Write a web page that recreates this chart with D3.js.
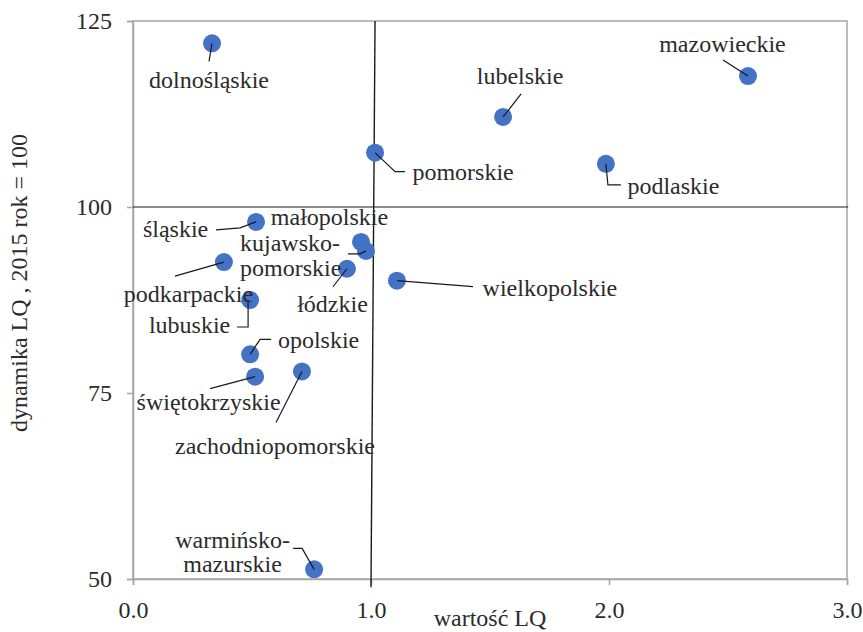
<!DOCTYPE html>
<html>
<head>
<meta charset="utf-8">
<script src="https://cdn.jsdelivr.net/npm/d3@7"></script>
<style>
  html, body { margin: 0; padding: 0; background: #fff; }
  svg { display: block; }
  text { font-family: "Liberation Serif", "Times New Roman", serif; fill: #2b2b2b; }
</style>
</head>
<body>
<svg id="chart" width="863" height="632"></svg>
<script>
// ---- data ----
const regions = ["dolnośląskie","mazowieckie","lubelskie","pomorskie","podlaskie","śląskie","małopolskie","kujawsko-pomorskie","łódzkie","podkarpackie","wielkopolskie","lubuskie","opolskie","świętokrzyskie","zachodniopomorskie","warmińsko-mazurskie"];
const lqValues  = [0.332, 2.584, 1.555, 1.017, 1.987, 0.517, 0.958, 0.979, 0.899, 0.382, 1.109, 0.492, 0.492, 0.513, 0.710, 0.761];
const dynamics  = [122.0, 117.6, 112.1, 107.3, 105.8, 98.0, 95.3, 94.1, 91.7, 92.6, 90.1, 87.5, 80.2, 77.2, 77.9, 51.3];
const xTickValues = [0, 1, 2, 3];
const xTickLabels = ["0.0", "1.0", "2.0", "3.0"];
const yTickValues = [50, 75, 100, 125];
const refVX = [1.017, 1.0], refVY = [125, 48.9];   // vertical reference line (LQ = 1)
const refHX = [0, 3.005], refHY = [100, 100];      // horizontal reference line (100)

// ---- label layout (pixel offsets from each point) ----
const labelLines = {
  "kujawsko-pomorskie": ["kujawsko-", "pomorskie"],
  "warmińsko-mazurskie": ["warmińsko-", "mazurskie"]
};
const labelLayout = [
  {dx: -3,    dy: 45,  anchor: "middle", leader: [[-3,18],[0,0]]},
  {dx: -25.5, dy: -24, anchor: "middle", leader: [[-25,-16],[0,0]]},
  {dx: 17,    dy: -33, anchor: "middle", leader: [[18,-23],[0,0]]},
  {dx: 88,    dy: 27,  anchor: "middle", leader: [[0,0],[20,19],[30,19]]},
  {dx: 67.5,  dy: 30,  anchor: "middle", leader: [[0,0],[2,21],[15,21]]},
  {dx: -80.5, dy: 15,  anchor: "middle", leader: [[-40,8],[-16,6],[0,0]]},
  {dx: -31.5, dy: -17, anchor: "middle", leader: null},
  {dx: -126,  dy: 0,   anchor: "start",  lh: 25, leader: [[-18,3],[-6,3],[0,0]]},
  {dx: -14.5, dy: 43,  anchor: "middle", leader: [[-14,18],[0,0]]},
  {dx: -35.5, dy: 40,  anchor: "middle", leader: [[-49,14],[0,0]]},
  {dx: 153,   dy: 15,  anchor: "middle", leader: [[0,0],[76,6]]},
  {dx: -60.5, dy: 33,  anchor: "middle", leader: [[-13,27],[-2,27],[-2,0]]},
  {dx: 68.5,  dy: -6,  anchor: "middle", leader: [[21,-15],[10,-15],[0,0]]},
  {dx: -46.5, dy: 33,  anchor: "middle", leader: [[-45,12],[0,0]]},
  {dx: -27,   dy: 83,  anchor: "middle", leader: [[-26,51],[0,0]]},
  {dx: -81.5, dy: -21, anchor: "middle", lh: 24, leader: [[-21,-21],[-12,-21],[0,0]]}
];

const points = regions.map((r, i) => ({name: r, x: lqValues[i], y: dynamics[i], lay: labelLayout[i]}));

// ---- chart ----
const FS = 24;
const svg = d3.select("#chart");
const L = 133, R = 847, T = 21, B = 579;
const x = d3.scaleLinear().domain([0, 3]).range([L, R]);
const y = d3.scaleLinear().domain([50, 125]).range([B, T]);

// frame
svg.append("rect").attr("x", L).attr("y", T).attr("width", R - L).attr("height", B - T)
  .attr("fill", "none").attr("stroke", "#a6a6a6").attr("stroke-width", 1.5);

// axes
const yAxis = d3.axisLeft(y).tickValues(yTickValues).tickSize(6).tickFormat(d3.format("d"));
const gy = svg.append("g").attr("transform", `translate(${L},0)`).call(yAxis);
const xAxis = d3.axisBottom(x).tickValues(xTickValues).tickSize(6).tickFormat((d, i) => xTickLabels[i]);
const gx = svg.append("g").attr("transform", `translate(0,${B})`).call(xAxis);
[gx, gy].forEach(g => {
  g.attr("font-family", null).attr("font-size", null);
  g.select(".domain").attr("stroke", "#a6a6a6").attr("stroke-width", 1.5);
  g.selectAll(".tick line").attr("stroke", "#a6a6a6").attr("stroke-width", 1.5);
  g.selectAll(".tick text").attr("font-family", "Liberation Serif, Times New Roman, serif")
    .attr("font-size", FS).attr("fill", "#2b2b2b");
});
gy.selectAll(".tick text").attr("x", -21).attr("dy", "0.32em");
gx.selectAll(".tick text").attr("y", 22).attr("dy", "0.71em");

// reference lines
const line = d3.line().x(d => x(d[0])).y(d => y(d[1]));
svg.append("path").attr("d", line(refHX.map((v, i) => [v, refHY[i]])))
  .attr("stroke", "#1a1a1a").attr("stroke-width", 1.2).attr("fill", "none");
svg.append("path").attr("d", line(refVX.map((v, i) => [v, refVY[i]])))
  .attr("stroke", "#1a1a1a").attr("stroke-width", 1.4).attr("fill", "none");

// axis titles
svg.append("text").attr("x", 490).attr("y", 626)
  .attr("text-anchor", "middle").attr("font-size", FS).text("wartość LQ");
svg.append("text").attr("transform", "translate(27,283) rotate(-90)")
  .attr("text-anchor", "middle").attr("font-size", FS).text("dynamika LQ , 2015 rok = 100");

// points
svg.append("g").selectAll("circle").data(points).join("circle")
  .attr("cx", d => x(d.x)).attr("cy", d => y(d.y)).attr("r", 9)
  .attr("fill", "#4472c4");

// leaders
const lg = svg.append("g");
points.filter(d => d.lay.leader).forEach(d => {
  const px = x(d.x), py = y(d.y);
  lg.append("polyline")
    .attr("points", d.lay.leader.map(p => `${px + p[0]},${py + p[1]}`).join(" "))
    .attr("fill", "none").attr("stroke", "#1a1a1a").attr("stroke-width", 1.2);
});

// labels
const tg = svg.append("g");
points.forEach(d => {
  const px = x(d.x), py = y(d.y);
  const lines = labelLines[d.name] || [d.name];
  const t = tg.append("text").attr("font-size", FS).attr("text-anchor", d.lay.anchor);
  lines.forEach((s, k) => {
    t.append("tspan").attr("x", px + d.lay.dx).attr("y", py + d.lay.dy + k * (d.lay.lh || 0)).text(s);
  });
});
</script>
</body>
</html>
